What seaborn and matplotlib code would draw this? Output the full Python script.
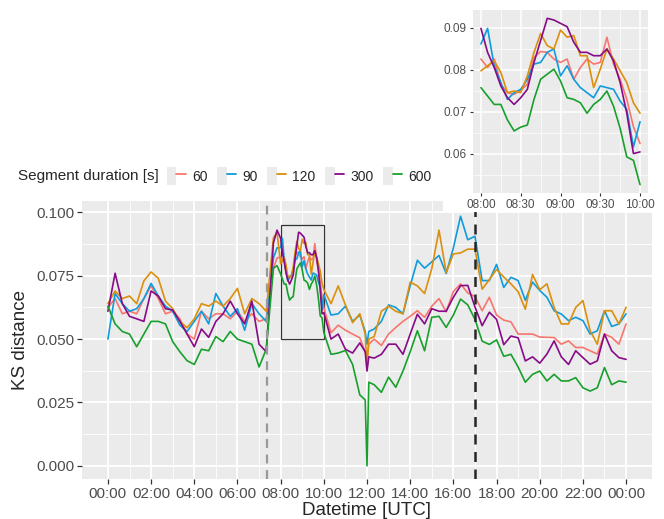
import matplotlib
matplotlib.use("Agg")
import numpy as np
import pandas as pd
import matplotlib.pyplot as plt
import matplotlib.dates as mdates
import seaborn as sns
from matplotlib.patches import Rectangle, Patch
from matplotlib.lines import Line2D
from matplotlib.legend_handler import HandlerTuple

# ---------------- data ----------------
times = ["00:00", "00:20", "00:40", "01:00", "01:20", "01:40", "02:00", "02:20", "02:40", "03:00",
         "03:20", "03:40", "04:00", "04:20", "04:40", "05:00", "05:20", "05:40", "06:00", "06:20",
         "06:40", "07:00", "07:20", "07:40", "07:50",
         "08:00", "08:05", "08:10", "08:15", "08:20", "08:25", "08:30", "08:35", "08:40", "08:45",
         "08:50", "08:55", "09:00", "09:05", "09:10", "09:15", "09:20", "09:25", "09:30", "09:35",
         "09:40", "09:45", "09:50", "09:55", "10:00",
         "10:20", "10:40", "11:00", "11:20", "11:40", "11:55", "12:00", "12:05", "12:20", "12:40",
         "13:00", "13:20", "13:40", "14:00", "14:20", "14:40", "15:00", "15:20", "15:40", "16:00",
         "16:20", "16:40", "17:00", "17:20", "17:40", "18:00", "18:20", "18:40", "19:00", "19:20",
         "19:40", "20:00", "20:20", "20:40", "21:00", "21:20", "21:40", "22:00", "22:20", "22:40",
         "23:00", "23:20", "23:40", "24:00"]

seg60 = [0.0625, 0.066, 0.060, 0.061, 0.060, 0.066, 0.071, 0.066, 0.060, 0.061,
         0.058, 0.052, 0.050, 0.061, 0.058, 0.060, 0.060, 0.058, 0.061, 0.057,
         0.060, 0.057, 0.058, 0.078, 0.082,
         0.0825, 0.0805, 0.0825, 0.0765, 0.0745, 0.0741, 0.0751, 0.0765, 0.0829, 0.0843,
         0.0841, 0.0825, 0.0817, 0.0825, 0.0777, 0.0805, 0.0825, 0.0813, 0.0817, 0.0877,
         0.0813, 0.0777, 0.0729, 0.0664, 0.0624,
         0.0525, 0.0555, 0.0535, 0.052, 0.0505, 0.045, 0.043, 0.048, 0.050, 0.0475,
         0.052, 0.0546, 0.057, 0.059, 0.0612, 0.0586, 0.063, 0.066, 0.0608, 0.0688,
         0.0718, 0.0682, 0.0668, 0.0612, 0.0665, 0.0595, 0.0575, 0.0568, 0.0520, 0.0520,
         0.0520, 0.0508, 0.0507, 0.0506, 0.0480, 0.0493, 0.0467, 0.0467, 0.0454, 0.0441,
         0.0520, 0.0507, 0.0480, 0.0560]

seg90 = [0.050, 0.068, 0.064, 0.061, 0.062, 0.066, 0.072, 0.067, 0.063, 0.061,
         0.0555, 0.053, 0.057, 0.061, 0.056, 0.068, 0.063, 0.059, 0.062, 0.0535,
         0.064, 0.060, 0.057, 0.082, 0.086,
         0.0861, 0.0898, 0.0809, 0.0769, 0.0729, 0.0745, 0.0753, 0.0777, 0.0813, 0.0817,
         0.0841, 0.0849, 0.0785, 0.0809, 0.0777, 0.0757, 0.0745, 0.0733, 0.0761, 0.0757,
         0.0753, 0.0725, 0.0705, 0.0616, 0.0676,
         0.0595, 0.060, 0.063, 0.057, 0.0595, 0.053, 0.048, 0.053, 0.054, 0.057,
         0.0635, 0.0625, 0.060, 0.071, 0.0811, 0.078, 0.0805, 0.083, 0.0759, 0.0860,
         0.0985, 0.0892, 0.0906, 0.0731, 0.0731, 0.0795, 0.0704, 0.0744, 0.0731, 0.0653,
         0.0725, 0.0692, 0.0665, 0.0612, 0.0599, 0.0573, 0.0586, 0.0573, 0.0520, 0.0533,
         0.0612, 0.0550, 0.0560, 0.0600]

seg120 = [0.064, 0.069, 0.066, 0.067, 0.064, 0.073, 0.0765, 0.074, 0.065, 0.062,
          0.057, 0.0545, 0.058, 0.064, 0.063, 0.065, 0.063, 0.066, 0.070, 0.060,
          0.066, 0.064, 0.061, 0.090, 0.092,
          0.0797, 0.0809, 0.0821, 0.0793, 0.0745, 0.0749, 0.0745, 0.0785, 0.0841, 0.0886,
          0.0857, 0.0849, 0.0894, 0.0877, 0.0881, 0.0833, 0.0833, 0.0757, 0.0801, 0.0849,
          0.0825, 0.0797, 0.0769, 0.0721, 0.0696,
          0.064, 0.071, 0.0635, 0.0565, 0.060, 0.052, 0.038, 0.050, 0.051, 0.061,
          0.063, 0.061, 0.060, 0.0725, 0.071, 0.068, 0.0778, 0.093, 0.0763, 0.0836,
          0.0840, 0.0855, 0.0855, 0.0697, 0.0735, 0.0775, 0.0745, 0.0718, 0.0687, 0.0618,
          0.0755, 0.0695, 0.0718, 0.0625, 0.0560, 0.0560, 0.0625, 0.0652, 0.0533, 0.0480,
          0.0612, 0.0612, 0.0560, 0.0626]

seg300 = [0.061, 0.076, 0.064, 0.059, 0.058, 0.057, 0.069, 0.067, 0.062, 0.0615,
          0.057, 0.052, 0.047, 0.054, 0.0507, 0.057, 0.060, 0.065, 0.060, 0.056,
          0.065, 0.048, 0.045, 0.088, 0.093,
          0.0898, 0.0841, 0.0805, 0.0761, 0.0733, 0.0717, 0.0733, 0.0753, 0.0817, 0.0869,
          0.0922, 0.0918, 0.0910, 0.0902, 0.0865, 0.0841, 0.0841, 0.0833, 0.0833, 0.0849,
          0.0821, 0.0769, 0.0696, 0.0600, 0.0604,
          0.050, 0.052, 0.046, 0.0445, 0.0485, 0.045, 0.0374, 0.043, 0.0425, 0.044,
          0.048, 0.048, 0.044, 0.052, 0.0598, 0.056, 0.062, 0.061, 0.061, 0.0665,
          0.0711, 0.0712, 0.0627, 0.0553, 0.0606, 0.0578, 0.0478, 0.0512, 0.0505, 0.0414,
          0.0430, 0.0405, 0.0441, 0.0493, 0.0430, 0.0400, 0.0454, 0.0427, 0.0401, 0.0414,
          0.0520, 0.0454, 0.0427, 0.0420]

seg600 = [0.063, 0.056, 0.053, 0.052, 0.047, 0.052, 0.057, 0.057, 0.056, 0.049,
          0.045, 0.0415, 0.040, 0.046, 0.0454, 0.051, 0.049, 0.053, 0.050, 0.049,
          0.048, 0.039, 0.046, 0.078, 0.079,
          0.0757, 0.0737, 0.0717, 0.0717, 0.0680, 0.0654, 0.0663, 0.0668, 0.0729, 0.0777,
          0.0789, 0.0801, 0.0773, 0.0733, 0.0729, 0.0721, 0.0696, 0.0717, 0.0729, 0.0749,
          0.0713, 0.0660, 0.0592, 0.0584, 0.0526,
          0.044, 0.0445, 0.0455, 0.040, 0.028, 0.026, 0.000, 0.033, 0.032, 0.029,
          0.035, 0.031, 0.0374, 0.045, 0.0533, 0.0454, 0.0586, 0.059, 0.0546, 0.0595,
          0.0658, 0.0635, 0.0578, 0.0492, 0.0479, 0.0497, 0.0432, 0.0440, 0.0390, 0.0330,
          0.0361, 0.0374, 0.0335, 0.0361, 0.0335, 0.0335, 0.0348, 0.0308, 0.0295, 0.0308,
          0.0388, 0.0320, 0.0335, 0.0330]

durations = ["60", "90", "120", "300", "600"]
colors = ["#F8766D", "#0F9BDC", "#DB8F0C", "#870A87", "#17A02C"]

xtick_labels = ["00:00", "02:00", "04:00", "06:00", "08:00", "10:00", "12:00",
                "14:00", "16:00", "18:00", "20:00", "22:00", "00:00"]
inset_tick_labels = ["08:00", "08:30", "09:00", "09:30", "10:00"]

event_grey = "07:22"
event_black = "17:00"
zoom_window = ("08:00", "10:00")
zoom_ks = (0.05, 0.095)

# ---------------- build frame ----------------
day0 = pd.Timestamp("2021-01-01")


def to_ts(s):
    h, m = s.split(":")
    return day0 + pd.Timedelta(hours=int(h), minutes=int(m))


ts = [to_ts(t) for t in times]
series = [seg60, seg90, seg120, seg300, seg600]
df = pd.concat([pd.DataFrame({"time": ts, "ks": vals, "dur": d})
                for d, vals in zip(durations, series)], ignore_index=True)
palette = dict(zip(durations, colors))

# ---------------- style ----------------
sns.set_style("darkgrid")
plt.rcParams["font.family"] = ["Liberation Sans", "DejaVu Sans"]
BG = "#EBEBEB"
TICKC = "#4D4D4D"

fig = plt.figure(figsize=(6.64, 5.19), dpi=100)
fig.patch.set_facecolor("white")

# main axes
ax = fig.add_axes([82 / 664, 1 - 479 / 519, 570 / 664, 278 / 519])
ax.set_facecolor(BG)
sns.lineplot(data=df, x="time", y="ks", hue="dur", palette=palette, hue_order=durations,
             ax=ax, legend=False, linewidth=1.2, estimator=None, errorbar=None)

ax.set_xlim(day0 - pd.Timedelta(minutes=72), day0 + pd.Timedelta(hours=24, minutes=72))
ax.set_ylim(-0.0052, 0.1045)
major_ticks = [day0 + pd.Timedelta(hours=h) for h in range(0, 25, 2)]
minor_ticks = [day0 + pd.Timedelta(hours=h) for h in range(1, 25, 2)]
ax.set_xticks(major_ticks)
ax.set_xticklabels(xtick_labels)
ax.set_xticks(minor_ticks, minor=True)
ax.set_yticks([0.0, 0.025, 0.05, 0.075, 0.1])
ax.set_yticklabels(["0.000", "0.025", "0.050", "0.075", "0.100"])
ax.set_yticks([0.0125, 0.0375, 0.0625, 0.0875], minor=True)
ax.grid(which="major", color="white", linewidth=1.3)
ax.grid(which="minor", color="white", linewidth=0.6)
ax.set_axisbelow(True)
for s in ax.spines.values():
    s.set_visible(False)
ax.tick_params(axis="both", which="major", length=3.5, width=0.9, color="#333333",
               labelsize=11, labelcolor=TICKC, pad=2, bottom=True, left=True)
ax.tick_params(axis="both", which="minor", length=0)
ax.set_xlabel("Datetime [UTC]", fontsize=13.5, labelpad=1)
ax.set_ylabel("KS distance", fontsize=13.5, labelpad=5)

ax.axvline(to_ts(event_grey), color="#999999", linestyle=(0, (4, 3)), linewidth=1.6)
ax.axvline(to_ts(event_black), color="#262626", linestyle=(0, (4, 3)), linewidth=1.8)
x0 = mdates.date2num(to_ts(zoom_window[0]))
x1 = mdates.date2num(to_ts(zoom_window[1]))
ax.add_patch(Rectangle((x0, zoom_ks[0]), x1 - x0, zoom_ks[1] - zoom_ks[0],
                       fill=False, edgecolor="#333333", linewidth=0.9))

# white background behind inset
fig.add_artist(Rectangle((443 / 664, 1 - 212 / 519), 1 - 443 / 664, 212 / 519,
                         transform=fig.transFigure, facecolor="white",
                         edgecolor="none", zorder=1))

# inset axes
axin = fig.add_axes([473 / 664, 1 - 193 / 519, 175 / 664, 183 / 519])
axin.set_zorder(2)
axin.set_facecolor(BG)
t_lo, t_hi = to_ts(zoom_window[0]), to_ts(zoom_window[1])
df_in = df[(df["time"] >= t_lo) & (df["time"] <= t_hi)]
sns.lineplot(data=df_in, x="time", y="ks", hue="dur", palette=palette, hue_order=durations,
             ax=axin, legend=False, linewidth=1.2, estimator=None, errorbar=None)
axin.set_xlim(t_lo - pd.Timedelta(minutes=6), t_hi + pd.Timedelta(minutes=6))
ymin, ymax = df_in["ks"].min(), df_in["ks"].max()
pad = (ymax - ymin) * 0.05
axin.set_ylim(ymin - pad, ymax + pad)
in_major = [t_lo + pd.Timedelta(minutes=m) for m in range(0, 121, 30)]
in_minor = [t_lo + pd.Timedelta(minutes=m) for m in range(15, 121, 30)]
axin.set_xticks(in_major)
axin.set_xticklabels(inset_tick_labels)
axin.set_xticks(in_minor, minor=True)
axin.set_yticks([0.06, 0.07, 0.08, 0.09])
axin.set_yticklabels(["0.06", "0.07", "0.08", "0.09"])
axin.set_yticks([0.055, 0.065, 0.075, 0.085], minor=True)
axin.grid(which="major", color="white", linewidth=1.1)
axin.grid(which="minor", color="white", linewidth=0.5)
axin.set_axisbelow(True)
for s in axin.spines.values():
    s.set_visible(False)
axin.tick_params(axis="both", which="major", length=2.5, width=0.8, color="#333333",
                 labelsize=8.5, labelcolor=TICKC, pad=2, bottom=True, left=True)
axin.tick_params(axis="both", which="minor", length=0)
axin.set_xlabel("")
axin.set_ylabel("")

# legend
handles = [(Patch(facecolor=BG, edgecolor="none"), Line2D([], [], color=c, linewidth=1.3))
           for c in colors]
fig.text(18 / 664, 1 - 176 / 519, "Segment duration [s]", fontsize=11, va="center", ha="left")
fig.legend(handles, durations, handler_map={tuple: HandlerTuple(ndivide=None)},
           loc="center left", bbox_to_anchor=(167 / 664, 1 - 176 / 519), ncol=5,
           frameon=False, fontsize=10, handlelength=1.35, handleheight=1.6,
           handletextpad=0.45, columnspacing=0.7, borderpad=0, borderaxespad=0)

fig.savefig("out.png", dpi=100, facecolor="white")
